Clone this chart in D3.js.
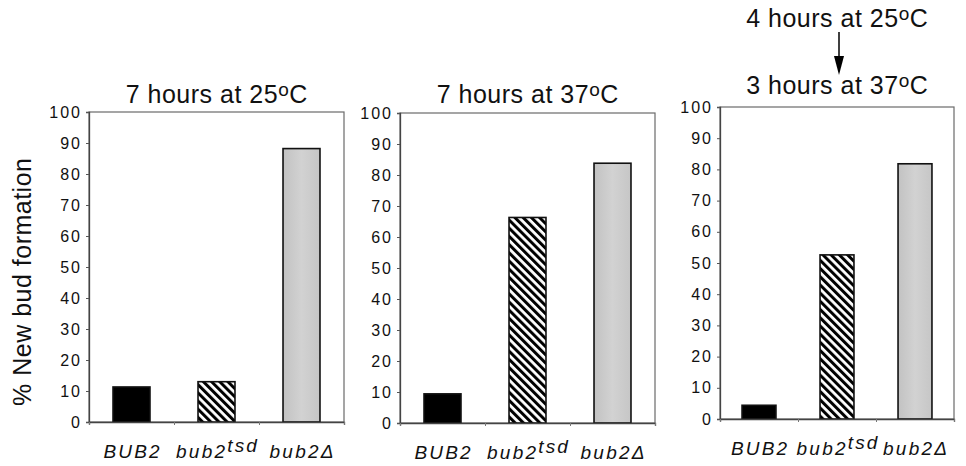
<!DOCTYPE html>
<html>
<head>
<meta charset="utf-8">
<script src="https://cdn.jsdelivr.net/npm/d3@7"></script>
<style>
  html, body { margin: 0; padding: 0; background: #fff; }
  svg { display: block; }
  text { font-family: "Liberation Sans", Arial, Helvetica, sans-serif; fill: #111; }
</style>
</head>
<body>
<svg id="chart" width="966" height="466"></svg>
<script>
// ---------- data ----------
const categories = ["BUB2", "bub2tsd", "bub2Δ"];
const labelMain = ["BUB2", "bub2", "bub2Δ"];
const labelSup = ["", "tsd", ""];
const yTicks = [0, 10, 20, 30, 40, 50, 60, 70, 80, 90, 100];
const values7h25 = [11.3, 13.0, 88.2];
const values7h37 = [9.4, 66.3, 83.8];
const values4h25to3h37 = [4.4, 52.6, 81.8];
const titles7h25 = [["7 hours at 25", "o", "C"]];
const titles7h37 = [["7 hours at 37", "o", "C"]];
const titlesShift = [["4 hours at 25", "o", "C"], ["3 hours at 37", "o", "C"]];
const yLabel = "% New bud formation";
const fills = ["#000000", "url(#hatch)", "url(#grayfill)"];

// ---------- helpers ----------
function spread(sel, gap) {
  sel.each(function () {
    const n = this.textContent.length;
    const L = this.getComputedTextLength();
    this.setAttribute("textLength", (L + gap * (n - 1)).toFixed(1));
    this.setAttribute("lengthAdjust", "spacing");
  });
}

// ---------- drawing ----------
const svg = d3.select("#chart");
const defs = svg.append("defs");

const hatch = defs.append("pattern")
  .attr("id", "hatch")
  .attr("patternUnits", "userSpaceOnUse")
  .attr("width", 5.8).attr("height", 5.8)
  .attr("patternTransform", "rotate(-45)");
hatch.append("rect").attr("width", 5.8).attr("height", 5.8).attr("fill", "#fff");
hatch.append("rect").attr("width", 3).attr("height", 5.8).attr("fill", "#000");

const grad = defs.append("linearGradient").attr("id", "grayfill")
  .attr("x1", "0").attr("x2", "1").attr("y1", "0").attr("y2", "0");
grad.append("stop").attr("offset", "0%").attr("stop-color", "#c2c2c2");
grad.append("stop").attr("offset", "50%").attr("stop-color", "#d2d2d2");
grad.append("stop").attr("offset", "100%").attr("stop-color", "#c6c6c6");

const panels = [
  { left: 89, right: 344, top: 112, bottom: 422, values: values7h25, titles: titles7h25, titleY: [103] },
  { left: 400, right: 655, top: 113, bottom: 423, values: values7h37, titles: titles7h37, titleY: [103] },
  { left: 720, right: 954, top: 107, bottom: 419, values: values4h25to3h37, titles: titlesShift, titleY: [27, 94], arrow: true }
];

function drawTitle(g, parts, cx, y) {
  const t = g.append("text")
    .attr("x", cx).attr("y", y)
    .attr("text-anchor", "middle")
    .style("font-size", "25px");
  t.append("tspan").text(parts[0]);
  t.append("tspan").attr("dy", -7).style("font-size", "19px").text(parts[1]);
  t.append("tspan").attr("dy", 7).text(parts[2]);
  spread(t, 0.5);
}

panels.forEach(p => {
  const g = svg.append("g");
  const x = d3.scaleBand().domain(categories).range([p.left, p.right]).paddingInner(0.565).paddingOuter(0.2825);
  const y = d3.scaleLinear().domain([0, 100]).range([p.bottom, p.top]);
  const xb = d3.scaleLinear().domain([0, categories.length]).range([p.left, p.right]);

  g.append("rect")
    .attr("x", p.left).attr("y", p.top)
    .attr("width", p.right - p.left).attr("height", p.bottom - p.top)
    .attr("fill", "none").attr("stroke", "#6a6a6a").attr("stroke-width", 1.2);

  g.selectAll("rect.bar").data(p.values).join("rect")
    .attr("class", "bar")
    .attr("x", (d, i) => x(categories[i]))
    .attr("y", d => y(d))
    .attr("width", x.bandwidth())
    .attr("height", d => y(0) - y(d))
    .attr("fill", (d, i) => fills[i])
    .attr("stroke", "#111")
    .attr("stroke-width", 1.6);

  const ya = g.append("g").attr("transform", `translate(${p.left},0)`)
    .call(d3.axisLeft(y).tickValues(yTicks).tickSize(3).tickPadding(6).tickFormat(d3.format("d")));
  ya.select(".domain").attr("stroke", "#444").attr("stroke-width", 1.3);
  ya.selectAll(".tick line").attr("stroke", "#555");
  const tt = ya.selectAll(".tick text")
    .attr("font-size", null)
    .style("font-family", "'Liberation Sans', Arial, sans-serif")
    .style("font-size", "16px")
    .attr("fill", "#1a1a1a");
  spread(tt, 2);

  const xa = g.append("g").attr("transform", `translate(0,${p.bottom})`)
    .call(d3.axisBottom(xb).tickValues(d3.range(categories.length + 1)).tickSize(3).tickFormat(""));
  xa.select(".domain").attr("stroke", "#444").attr("stroke-width", 1.3);
  xa.selectAll(".tick line").attr("stroke", "#777");

  categories.forEach((c, i) => {
    const t = g.append("text")
      .attr("x", x(c) + x.bandwidth() / 2)
      .attr("y", p.bottom + 36)
      .attr("text-anchor", "middle")
      .style("font-size", "19px").style("font-style", "italic");
    t.append("tspan").text(labelMain[i]);
    if (labelSup[i]) t.append("tspan").attr("dy", -6).text(labelSup[i]);
    spread(t, 2.2);
  });

  const cx = (p.left + p.right) / 2;
  p.titles.forEach((parts, k) => drawTitle(g, parts, cx, p.titleY[k]));

  if (p.arrow) {
    const ax = cx + 2;
    g.append("line").attr("x1", ax).attr("x2", ax).attr("y1", 32).attr("y2", 60)
      .attr("stroke", "#000").attr("stroke-width", 1.5);
    g.append("path")
      .attr("d", `M${ax - 5},56 L${ax + 5},56 L${ax},75 Z`)
      .attr("fill", "#000");
  }
});

const yl = svg.append("text")
  .attr("transform", "translate(31,282) rotate(-90)")
  .attr("text-anchor", "middle")
  .style("font-size", "25px")
  .text(yLabel);
spread(yl, 0.5);
</script>
</body>
</html>
